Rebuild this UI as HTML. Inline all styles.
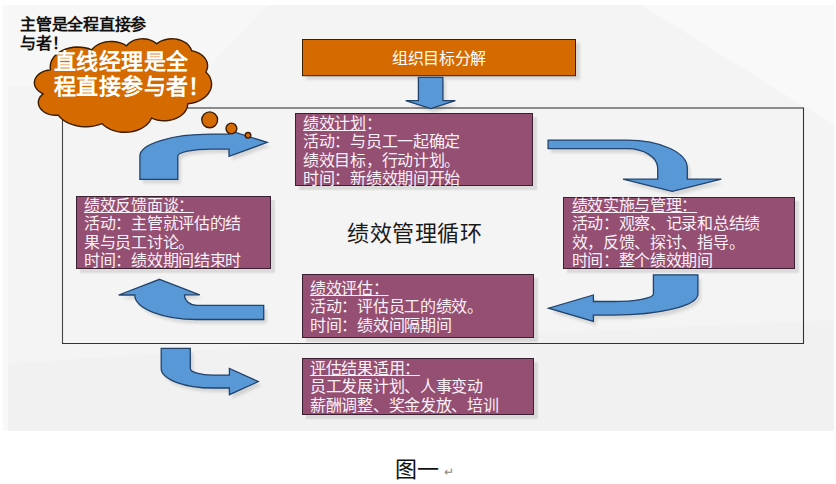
<!DOCTYPE html>
<html lang="zh-CN"><head><meta charset="utf-8">
<style>
html,body{margin:0;padding:0;background:#fff;width:836px;height:484px;overflow:hidden}
body{position:relative;font-family:"Liberation Sans",sans-serif}
svg{position:absolute;left:0;top:0}
.t{position:absolute;white-space:nowrap}
.box{position:absolute;background:#944f72;border:1px solid #3a2030;box-shadow:4px 4px 1.5px rgba(0,0,0,0.1)}
.bt{position:absolute;color:#fbf1f7;font-size:16px;letter-spacing:-0.3px;line-height:18.3px;white-space:nowrap;font-family:"Liberation Serif",serif}
.bt u{text-decoration:underline;text-underline-offset:0.5px;text-decoration-thickness:1px}
</style></head><body>
<svg width="836" height="484" viewBox="0 0 836 484">
<defs>
<filter id="sh" x="-20%" y="-20%" width="140%" height="140%"><feGaussianBlur stdDeviation="1.5"/></filter>
</defs>
<rect x="3" y="5" width="831" height="426" fill="#f4f4f4"/>
<polygon points="641,5 834,5 834,125" fill="#f9f9f9"/>
<polygon points="3,5 268,5 190,86 3,86" fill="#f7f7f7"/>
<polygon points="3,364 300,344 834,320 834,431 3,431" fill="#f1f1f1"/>
<rect x="3" y="5" width="5" height="426" fill="#f8f8f8"/>
<!-- big rect lines -->
<line x1="62" y1="108" x2="804" y2="108" stroke="#6a6a6a" stroke-width="1.3"/>
<line x1="62.5" y1="108" x2="62.5" y2="344" stroke="#444" stroke-width="1.1"/>
<line x1="62" y1="343.5" x2="804" y2="343.5" stroke="#333" stroke-width="1.1"/>
<line x1="803.5" y1="108" x2="803.5" y2="344" stroke="#333" stroke-width="1.1"/>
<!-- orange box -->
<rect x="306" y="43" width="274" height="36.5" fill="#000" opacity="0.12" filter="url(#sh)"/>
<rect x="302.5" y="39.5" width="273" height="36.2" fill="#d56b00" stroke="#3b2000" stroke-width="1"/>
<!-- arrows shadows -->
<g fill="#000" opacity="0.12" filter="url(#sh)" transform="translate(3,4)">
<path d="M418.4,77.3 H442.9 V100.7 H455.4 L430.8,108.6 L405.7,100.7 H418.4 Z"/>
<path d="M139.9,179.3 V156 A71.1,21.9 0 0 1 211,134.1 H229 V130.5 L267.2,142.4 L229,156.3 V149.1 H211 A33.2,6.9 0 0 0 177.8,156 V179.3 Z"/>
<path d="M548.1,140.1 H627 A60.3,27.9 0 0 1 687.3,168 V179.2 H721.3 L672.2,191.4 L623,179.2 H657.7 V168 A30.7,19.3 0 0 0 627,148.7 H548.1 Z"/>
<path d="M653.4,274.8 H697.9 V294 A85,21.1 0 0 1 612.9,315.1 H593.4 V321.4 L548.6,308.2 L593.4,295 V301.5 H612.9 A40.5,7.5 0 0 0 653.4,294 Z"/>
<path d="M159.6,279.3 L199.8,294.8 H184.5 A12.5,10.3 0 0 0 197,305.3 H263.7 V319.5 H197 A62,24.5 0 0 1 134.8,295 H118.7 Z"/>
<path d="M161.2,348.4 H190.3 V368.5 A22.7,6.6 0 0 0 213,375.1 H229.4 V368.4 L258.3,381.6 L229.4,394.7 V388 H213 A51.8,19.5 0 0 1 161.2,368.5 Z"/>
</g>
<g fill="#5898d6" stroke="#22436b" stroke-width="1.3" stroke-linejoin="miter">
<path d="M418.4,77.3 H442.9 V100.7 H455.4 L430.8,108.6 L405.7,100.7 H418.4 Z"/>
<path d="M139.9,179.3 V156 A71.1,21.9 0 0 1 211,134.1 H229 V130.5 L267.2,142.4 L229,156.3 V149.1 H211 A33.2,6.9 0 0 0 177.8,156 V179.3 Z"/>
<path d="M548.1,140.1 H627 A60.3,27.9 0 0 1 687.3,168 V179.2 H721.3 L672.2,191.4 L623,179.2 H657.7 V168 A30.7,19.3 0 0 0 627,148.7 H548.1 Z"/>
<path d="M653.4,274.8 H697.9 V294 A85,21.1 0 0 1 612.9,315.1 H593.4 V321.4 L548.6,308.2 L593.4,295 V301.5 H612.9 A40.5,7.5 0 0 0 653.4,294 Z"/>
<path d="M159.6,279.3 L199.8,294.8 H184.5 A12.5,10.3 0 0 0 197,305.3 H263.7 V319.5 H197 A62,24.5 0 0 1 134.8,295 H118.7 Z"/>
<path d="M161.2,348.4 H190.3 V368.5 A22.7,6.6 0 0 0 213,375.1 H229.4 V368.4 L258.3,381.6 L229.4,394.7 V388 H213 A51.8,19.5 0 0 1 161.2,368.5 Z"/>
</g>
<!-- cloud -->
<path d="M50.5,69.6 L50.2,66.8 L50.5,64.1 L51.3,61.3 L52.7,58.7 L54.5,56.3 L56.8,54.1 L59.5,52.1 L62.5,50.4 L65.9,49.0 L69.5,48.0 L73.2,47.3 L77.1,47.0 L81.0,47.2 L84.8,47.7 L88.4,48.5 L91.9,49.8 L93.2,48.2 L94.8,46.8 L96.5,45.5 L98.5,44.3 L100.7,43.3 L103.0,42.6 L105.4,42.0 L107.9,41.6 L110.4,41.4 L112.9,41.5 L115.4,41.7 L117.9,42.2 L120.3,42.8 L122.5,43.7 L124.6,44.7 L126.5,45.9 L127.6,44.5 L129.0,43.2 L130.6,42.1 L132.4,41.1 L134.3,40.2 L136.4,39.6 L138.6,39.1 L140.8,38.9 L143.1,38.8 L145.3,39.0 L147.6,39.3 L149.7,39.9 L151.7,40.6 L153.6,41.6 L155.2,42.6 L156.7,43.9 L158.7,42.4 L160.9,41.2 L163.4,40.2 L166.0,39.5 L168.7,39.0 L171.5,38.8 L174.3,38.9 L177.1,39.3 L179.7,40.0 L182.2,40.9 L184.5,42.1 L186.6,43.4 L188.3,45.0 L189.7,46.8 L190.8,48.6 L191.5,50.6 L193.7,51.1 L195.8,51.8 L197.8,52.6 L199.7,53.6 L201.4,54.8 L203.0,56.1 L204.3,57.4 L205.4,58.9 L206.3,60.5 L207.0,62.1 L207.4,63.7 L207.6,65.4 L207.5,67.1 L207.2,68.8 L206.6,70.4 L205.8,72.0 L207.8,74.1 L209.5,76.4 L210.6,78.9 L211.3,81.4 L211.6,84.0 L211.4,86.6 L210.7,89.2 L209.5,91.6 L208.0,94.0 L206.0,96.2 L203.6,98.1 L200.9,99.8 L197.9,101.3 L194.7,102.5 L191.3,103.3 L187.8,103.9 L187.5,106.1 L186.9,108.3 L185.8,110.5 L184.4,112.5 L182.6,114.3 L180.5,116.0 L178.1,117.4 L175.5,118.7 L172.6,119.6 L169.6,120.3 L166.5,120.7 L163.4,120.8 L160.3,120.5 L157.2,120.0 L154.3,119.2 L151.5,118.2 L150.1,120.8 L148.2,123.3 L145.9,125.5 L143.1,127.5 L140.0,129.2 L136.6,130.5 L132.9,131.5 L129.1,132.1 L125.2,132.3 L121.3,132.2 L117.5,131.6 L113.8,130.6 L110.4,129.3 L107.2,127.7 L104.4,125.7 L102.0,123.5 L99.3,124.6 L96.3,125.4 L93.3,126.1 L90.2,126.5 L87.1,126.7 L84.0,126.7 L80.8,126.5 L77.8,126.0 L74.8,125.3 L71.9,124.4 L69.1,123.3 L66.5,122.1 L64.1,120.6 L61.9,119.0 L60.0,117.2 L58.3,115.3 L55.6,115.3 L52.9,115.1 L50.2,114.6 L47.7,113.8 L45.5,112.8 L43.4,111.5 L41.7,110.0 L40.3,108.3 L39.2,106.5 L38.6,104.6 L38.3,102.7 L38.5,100.7 L39.1,98.8 L40.1,97.0 L41.5,95.3 L43.2,93.8 L40.9,92.6 L38.9,91.2 L37.2,89.6 L35.9,87.9 L34.9,86.0 L34.4,84.0 L34.4,82.0 L34.8,80.0 L35.6,78.0 L36.8,76.2 L38.4,74.6 L40.3,73.1 L42.5,71.9 L45.0,70.9 L47.6,70.3 L50.3,69.9 Z" fill="#d56b00" stroke="#3a1c00" stroke-width="1.4"/>
<g fill="#d56b00" stroke="#3a1c00" stroke-width="1.4">
<circle cx="209.7" cy="119.8" r="7.9"/>
<circle cx="231.4" cy="128.5" r="5.4"/>
<circle cx="248" cy="135.3" r="2.8"/>
</g>
</svg>

<div class="t" style="left:20px;top:16px;font-size:16px;letter-spacing:-0.25px;line-height:18.8px;font-weight:bold;color:#111">主管是全程直接参<br>与者！</div>
<div class="t" style="left:54px;top:50px;font-size:22px;letter-spacing:0.4px;line-height:24.5px;font-weight:bold;color:#fff">直线经理是全<br>程直接参与者！</div>
<div class="t" style="left:392px;top:49px;font-size:16px;letter-spacing:-0.35px;line-height:20px;color:#fff">组织目标分解</div>

<div class="box" style="left:295.2px;top:113.4px;width:236.3px;height:71.1px"></div>
<div class="bt" style="left:303px;top:115px"><u>绩效计划</u>：<br>活动：与员工一起确定<br>绩效目标，行动计划。<br>时间：新绩效期间开始</div>

<div class="box" style="left:563.4px;top:196.5px;width:229.7px;height:70.5px"></div>
<div class="bt" style="left:571.5px;top:197px"><u>绩效实施与管理：</u><br>活动：观察、记录和总结绩<br>效，反馈、探讨、指导。<br>时间：整个绩效期间</div>

<div class="box" style="left:76.4px;top:196.2px;width:192.7px;height:70.5px"></div>
<div class="bt" style="left:84px;top:197px"><u>绩效反馈面谈：</u><br>活动：主管就评估的结<br>果与员工讨论。<br>时间：绩效期间结束时</div>

<div class="box" style="left:302.2px;top:274.3px;width:229.4px;height:61.6px"></div>
<div class="bt" style="left:310px;top:280px"><u>绩效评估：</u><br>活动：评估员工的绩效。<br>时间：绩效间隔期间</div>

<div class="box" style="left:302.1px;top:358.4px;width:229.7px;height:54.9px"></div>
<div class="bt" style="left:310px;top:360px"><u>评估结果适用：</u><br>员工发展计划、人事变动<br>薪酬调整、奖金发放、培训</div>

<div class="t" style="left:347px;top:219px;font-size:22px;letter-spacing:0.5px;line-height:30px;color:#1a1a1a">绩效管理循环</div>

<div class="t" style="left:395px;top:454.5px;font-size:22px;line-height:30px;color:#111;font-family:'Liberation Serif',serif">图一<span style="font-size:12px;color:#888;margin-left:5px;position:relative;top:-1px">↵</span></div>
</body></html>
